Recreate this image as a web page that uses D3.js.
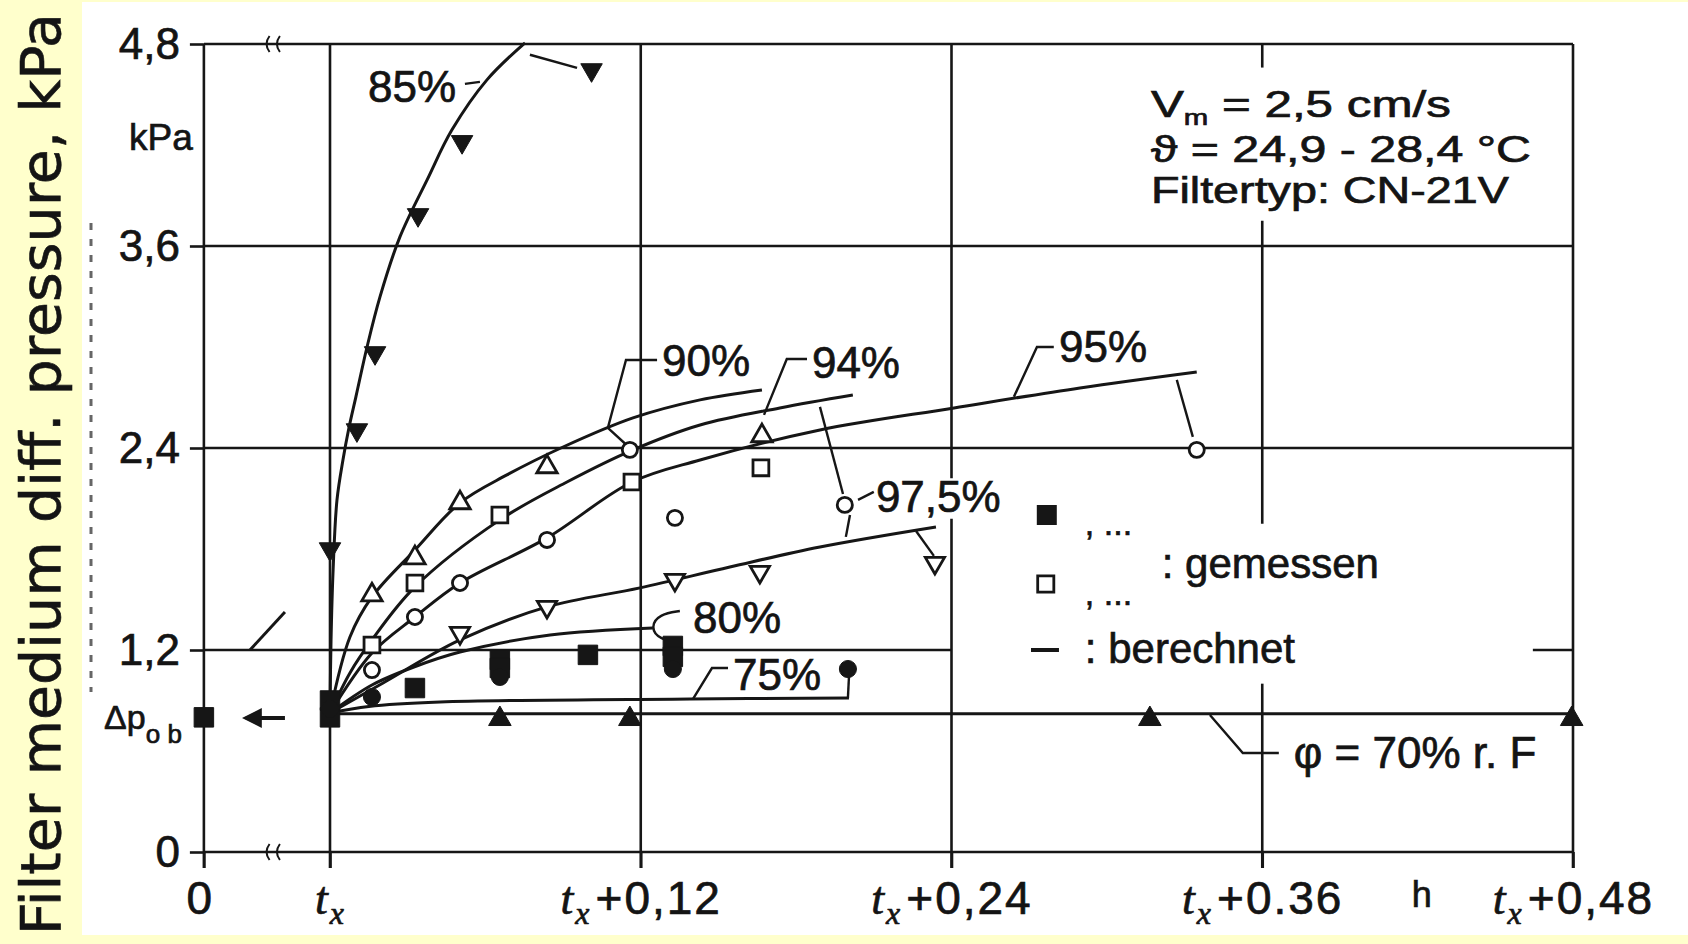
<!doctype html>
<html>
<head>
<meta charset="utf-8">
<title>Filter medium diff. pressure</title>
<script src="https://cdnjs.cloudflare.com/ajax/libs/d3/7.8.5/d3.min.js"></script>
<style>
body { margin:0; background:#ffffcc; }
text { font-family:"Liberation Sans", Arial, sans-serif; fill:#141414; stroke:#141414; stroke-width:0.7px; }
.ttl { font-family:"DejaVu Sans", sans-serif; stroke-width:0.6px; }
.it { font-family:"Liberation Serif", serif; font-style:italic; }
</style>
</head>
<body>
<div id="chartContainer"></div>
<script>
// values: time in h after t_x, pressure in kPa
var yTicks = [0, 1.2, 2.4, 3.6, 4.8];
var yTickLabels = ["0", "1,2", "2,4", "3,6", "4,8"];
var xZero = -0.0487;               // broken axis: position of the "0" tick
var xTicks = [xZero, 0, 0.12, 0.24, 0.36, 0.48];
var xTickSuffix = ["", "", "+0,12", "+0,24", "+0.36", "+0,48"];

// computed curves ("berechnet")
var c85_t = [0, 0.0004, 0.0012, 0.0027, 0.005, 0.0073, 0.010, 0.0143, 0.0193, 0.027, 0.0375, 0.0471, 0.0606, 0.0753];
var c85_p = [0.826, 1.26, 1.676, 2.092, 2.329, 2.519, 2.704, 3.0, 3.298, 3.654, 3.993, 4.29, 4.587, 4.807];
var c90_t = [0, 0.0077, 0.0162, 0.0328, 0.0502, 0.0683, 0.090, 0.117, 0.1429, 0.1668];
var c90_p = [0.826, 1.277, 1.515, 1.794, 2.074, 2.24, 2.406, 2.579, 2.686, 2.745];
var c94_t = [0, 0.0077, 0.0162, 0.0328, 0.0656, 0.0915, 0.117, 0.1429, 0.1737, 0.2019];
var c94_p = [0.826, 1.064, 1.26, 1.575, 1.973, 2.198, 2.389, 2.537, 2.638, 2.715];
var c95_t = [0, 0.0162, 0.0328, 0.0502, 0.0838, 0.1166, 0.1429, 0.1892, 0.241, 0.2896, 0.3347];
var c95_p = [0.826, 1.182, 1.396, 1.598, 1.866, 2.198, 2.329, 2.507, 2.638, 2.757, 2.852];
var c975_t = [0, 0.0205, 0.0502, 0.0838, 0.1197, 0.1544, 0.1892, 0.234];
var c975_p = [0.826, 1.004, 1.26, 1.456, 1.569, 1.693, 1.812, 1.931];
var c80_t = [0, 0.0162, 0.0324, 0.0502, 0.085, 0.1247];
var c80_p = [0.826, 0.992, 1.099, 1.188, 1.289, 1.331];
var c75_t = [0, 0.015, 0.0425, 0.139, 0.2004];
var c75_p = [0.826, 0.865, 0.891, 0.909, 0.915];
var c70_t = [0, 0.48];
var c70_p = [0.822, 0.822];

// measured points ("gemessen")
var m85_t = [0, 0.0104, 0.0174, 0.034, 0.051, 0.101];
var m85_p = [1.80, 2.507, 2.965, 3.785, 4.219, 4.646];
var m90_t = [0.0162, 0.0328, 0.0502, 0.0838, 0.1668];
var m90_p = [1.527, 1.747, 2.074, 2.288, 2.472];
var m94_t = [0.0162, 0.0328, 0.0656, 0.1166, 0.1664];
var m94_p = [1.23, 1.598, 2.002, 2.198, 2.282];
var m95_t = [0.0162, 0.0328, 0.0502, 0.0838, 0.1332, 0.1158, 0.1988, 0.3347];
var m95_p = [1.081, 1.396, 1.598, 1.854, 1.985, 2.389, 2.062, 2.389];
var m975_t = [0.0502, 0.0838, 0.1332, 0.166, 0.2336];
var m975_p = [1.301, 1.456, 1.616, 1.664, 1.717];
var m80_t = [xZero, 0, 0, 0.0328, 0.0656, 0.0656, 0.0996, 0.1324, 0.1324];
var m80_p = [0.80, 0.80, 0.90, 0.974, 1.141, 1.093, 1.171, 1.224, 1.159];
var m75_t = [0, 0.0162, 0.0656, 0.1324, 0.2];
var m75_p = [0.85, 0.921, 1.04, 1.087, 1.087];
var m70_t = [0.0656, 0.1158, 0.3166, 0.4795];
var m70_p = [0.79, 0.79, 0.79, 0.79];

var W = 1688, H = 944, ink = "#161616";
var svg = d3.select("#chartContainer").append("svg").attr("width", W).attr("height", H);

var x = d3.scaleLinear().domain([0, 0.48]).range([330, 1573]);
var y = d3.scaleLinear().domain([0, 4.8]).range([852, 44]);

function zip(t, p) { return t.map(function(d, i) { return [d, p[i]]; }); }
var line = d3.line().x(function(d){ return x(d[0]); }).y(function(d){ return y(d[1]); });
var smooth = d3.line().x(function(d){ return x(d[0]); }).y(function(d){ return y(d[1]); }).curve(d3.curveCatmullRom);

svg.append("rect").attr("width", W).attr("height", H).attr("fill", "#ffffcc");
svg.append("rect").attr("x", 82).attr("y", 2).attr("width", W - 82).attr("height", 933).attr("fill", "#fff");

// y title
svg.append("text").attr("class", "ttl")
   .attr("transform", "translate(60,935) rotate(-90)")
   .attr("textLength", 922).attr("lengthAdjust", "spacingAndGlyphs")
   .style("font-size", "56px").text("Filter medium diff. pressure, kPa");

// dashed mark left of the axis
svg.append("line").attr("x1", 91).attr("x2", 91).attr("y1", 223).attr("y2", 692)
   .attr("stroke", "#666").attr("stroke-width", 3).attr("stroke-dasharray", "7,9");

var grid = svg.append("g").attr("stroke", ink).attr("stroke-width", 2.6).attr("fill", "none");
function seg(t1, p1, t2, p2) { grid.append("path").attr("d", line([[t1, p1], [t2, p2]])); }

// frame + grid
seg(xZero, 4.8, 0.48, 4.8);
seg(xZero, 0, 0.48, 0);
seg(xZero, 3.6, 0.48, 3.6);
seg(xZero, 2.4, 0.48, 2.4);
seg(xZero, 1.2, 0.24, 1.2);
seg(0.4645, 1.2, 0.48, 1.2);
[xZero, 0, 0.12, 0.48].forEach(function(t){ seg(t, 4.8, t, -0.095); });
seg(0.24, 4.8, 0.24, 2.22); seg(0.24, 1.98, 0.24, -0.095);
seg(0.36, 4.8, 0.36, 4.66); seg(0.36, 3.75, 0.36, 1.95); seg(0.36, 1.0, 0.36, -0.095);

// axis breaks
[4.8, 0].forEach(function(p) {
  [-0.0245, -0.0205].forEach(function(t) {
    grid.append("path").attr("stroke-width", 2)
        .attr("d", "M" + (x(t) + 3) + "," + (y(p) - 8) + " q -6,8 0,16");
  });
});

// y axis labels + ticks
var yAxis = svg.append("g").attr("transform", "translate(" + x(xZero) + ",0)")
   .call(d3.axisLeft(y).tickValues(yTicks).tickSize(14).tickPadding(10)
         .tickFormat(function(d, i){ return yTickLabels[i]; }));
yAxis.select(".domain").remove();
yAxis.selectAll("line").attr("stroke", ink).attr("stroke-width", 2.6);
yAxis.selectAll("text").attr("fill", ink).style("font-size", "44px")
     .style("font-family", "'Liberation Sans', Arial, sans-serif");

svg.append("text").attr("x", x(xZero) - 11).attr("y", y(4.17)).attr("text-anchor", "end")
   .style("font-size", "37px").text("kPa");

// x axis labels
var xAxis = svg.append("g").attr("transform", "translate(0," + y(0) + ")")
   .call(d3.axisBottom(x).tickValues(xTicks).tickSize(16).tickFormat(""));
xAxis.select(".domain").remove();
xAxis.selectAll("line").attr("stroke", ink).attr("stroke-width", 2.6);
xAxis.selectAll(".tick").each(function(d, i) {
  var t = d3.select(this).append("text").attr("y", 62).attr("text-anchor", "middle")
            .style("font-size", "46px").style("letter-spacing", "2px");
  if (i === 0) { t.attr("dx", -4).text("0"); return; }
  t.append("tspan").attr("class", "it").text("t");
  t.append("tspan").attr("class", "it").attr("dy", 10).style("font-size", "32px").text("x");
  if (xTickSuffix[i]) t.append("tspan").attr("dy", -10).attr("dx", 4).text(xTickSuffix[i]);
});
svg.append("text").attr("x", x(0.4216)).attr("y", y(0) + 55).attr("text-anchor", "middle")
   .style("font-size", "36px").text("h");

// Δp_ob
var dpl = svg.append("text").attr("x", x(xZero) - 22).attr("y", y(0.8) + 12).attr("text-anchor", "end")
   .style("font-size", "34px");
dpl.append("tspan").text("Δp");
dpl.append("tspan").attr("dy", 14).style("font-size", "26px").text("o b");
svg.append("defs").append("marker").attr("id", "ah").attr("viewBox", "0 0 10 10")
   .attr("refX", 8).attr("refY", 5).attr("markerWidth", 5).attr("markerHeight", 5).attr("orient", "auto")
   .append("path").attr("d", "M10,5 L0,0 L0,10 Z").attr("fill", ink);
svg.append("path").attr("d", line([[-0.0174, 0.796], [-0.0325, 0.796]]))
   .attr("stroke", ink).attr("stroke-width", 4).attr("marker-end", "url(#ah)");
svg.append("path").attr("d", line([[-0.0309, 1.2], [-0.0174, 1.426]]))
   .attr("stroke", ink).attr("stroke-width", 3);

// computed curves
var curves = [[c85_t, c85_p], [c90_t, c90_p], [c94_t, c94_p], [c95_t, c95_p],
              [c975_t, c975_p], [c80_t, c80_p], [c75_t, c75_p], [c70_t, c70_p]];
svg.append("g").selectAll("path").data(curves).join("path")
   .attr("d", function(c){ return smooth(zip(c[0], c[1])); })
   .attr("fill", "none").attr("stroke", ink).attr("stroke-width", 3);

// leader lines (data units)
var leaders = [
  [[0.0772, 4.736], [0.0954, 4.658]],
  [[0.0521, 4.563], [0.0579, 4.575]],
  [[0.1263, 2.923], [0.1143, 2.923], [0.1073, 2.519], [0.1158, 2.40]],
  [[0.1842, 2.929], [0.1764, 2.929], [0.1676, 2.597]],
  [[0.2795, 3.0], [0.273, 3.0], [0.2641, 2.704]],
  [[0.327, 2.805], [0.3332, 2.466]],
  [[0.1892, 2.644], [0.1981, 2.127]],
  [[0.2008, 2.002], [0.1992, 1.872]],
  [[0.2039, 2.092], [0.21, 2.139]],
  [[0.2263, 1.907], [0.2332, 1.759]],
  [[0.1402, 0.909], [0.1475, 1.093], [0.1537, 1.093]],
  [[0.2, 0.915], [0.2004, 1.04]],
  [[0.3398, 0.814], [0.3525, 0.588], [0.3664, 0.588]]
];
svg.append("g").selectAll("path").data(leaders).join("path")
   .attr("d", line).attr("fill", "none").attr("stroke", ink).attr("stroke-width", 2.4);
svg.append("path")
   .attr("d", d3.line().x(function(d){ return x(d[0]); }).y(function(d){ return y(d[1]); })
          .curve(d3.curveBasis)([[0.1351, 1.432], [0.1274, 1.414], [0.1236, 1.337], [0.1274, 1.26], [0.1351, 1.248]]))
   .attr("fill", "none").attr("stroke", ink).attr("stroke-width", 2.4);

// markers
function drawPts(t, p, type, size, filled, rot) {
  svg.append("g").selectAll("path").data(zip(t, p)).join("path")
     .attr("transform", function(d){ return "translate(" + x(d[0]) + "," + y(d[1]) + ") rotate(" + (rot || 0) + ")"; })
     .attr("d", d3.symbol(type, size))
     .attr("fill", filled ? ink : "#fff").attr("stroke", ink).attr("stroke-width", filled ? 1 : 2.8);
}
drawPts(m85_t, m85_p, d3.symbolTriangle, 200, true, 180);
drawPts(m90_t, m90_p, d3.symbolTriangle, 180, false);
drawPts(m94_t, m94_p, d3.symbolSquare, 250, false);
drawPts(m95_t, m95_p, d3.symbolCircle, 180, false);
drawPts(m975_t, m975_p, d3.symbolTriangle, 160, false, 180);
drawPts(m80_t, m80_p, d3.symbolSquare, 380, true);
drawPts(m75_t, m75_p, d3.symbolCircle, 230, true);
drawPts(m70_t, m70_p, d3.symbolTriangle, 220, true);

// curve labels
var labels = [["85%", 0.0147, 4.456], ["90%", 0.1282, 2.828], ["94%", 0.1861, 2.816],
              ["95%", 0.2815, 2.911], ["97,5%", 0.2108, 2.02], ["80%", 0.1402, 1.301],
              ["75%", 0.1556, 0.963]];
svg.append("g").selectAll("text").data(labels).join("text")
   .attr("x", function(d){ return x(d[1]); }).attr("y", function(d){ return y(d[2]); })
   .style("font-size", "44px").text(function(d){ return d[0]; });
svg.append("text").attr("x", x(0.3722)).attr("y", y(0.499)).style("font-size", "44px")
   .text("φ = 70% r. F");

// conditions
var info = svg.append("g").style("font-size", "37px");
var l1 = info.append("text").attr("x", x(0.317)).attr("y", y(4.367))
   .attr("textLength", 300).attr("lengthAdjust", "spacingAndGlyphs");
l1.append("tspan").text("V");
l1.append("tspan").attr("dy", 8).style("font-size", "22px").text("m");
l1.append("tspan").attr("dy", -8).text(" =  2,5 cm/s");
info.append("text").attr("x", x(0.317)).attr("y", y(4.1))
   .attr("textLength", 380).attr("lengthAdjust", "spacingAndGlyphs").text("ϑ = 24,9 - 28,4 °C");
info.append("text").attr("x", x(0.317)).attr("y", y(3.856))
   .attr("textLength", 358).attr("lengthAdjust", "spacingAndGlyphs").text("Filtertyp: CN-21V");

// legend
var lg = svg.append("g");
lg.append("path").attr("transform", "translate(" + x(0.2768) + "," + y(2.002) + ")")
  .attr("d", d3.symbol(d3.symbolSquare, 400)).attr("fill", ink);
lg.append("path").attr("transform", "translate(" + x(0.2764) + "," + y(1.592) + ")")
  .attr("d", d3.symbol(d3.symbolSquare, 260)).attr("fill", "#fff").attr("stroke", ink).attr("stroke-width", 2.8);
lg.append("path").attr("d", line([[0.2707, 1.2], [0.2815, 1.2]])).attr("stroke", ink).attr("stroke-width", 4);
lg.append("text").attr("x", x(0.2915)).attr("y", y(1.884)).style("font-size", "34px").text(", ...");
lg.append("text").attr("x", x(0.2915)).attr("y", y(1.468)).style("font-size", "34px").text(", ...");
lg.append("text").attr("x", x(0.3212)).attr("y", y(1.628)).style("font-size", "42px").text(": gemessen");
lg.append("text").attr("x", x(0.2915)).attr("y", y(1.123)).style("font-size", "42px").text(": berechnet");
</script>
</body>
</html>
